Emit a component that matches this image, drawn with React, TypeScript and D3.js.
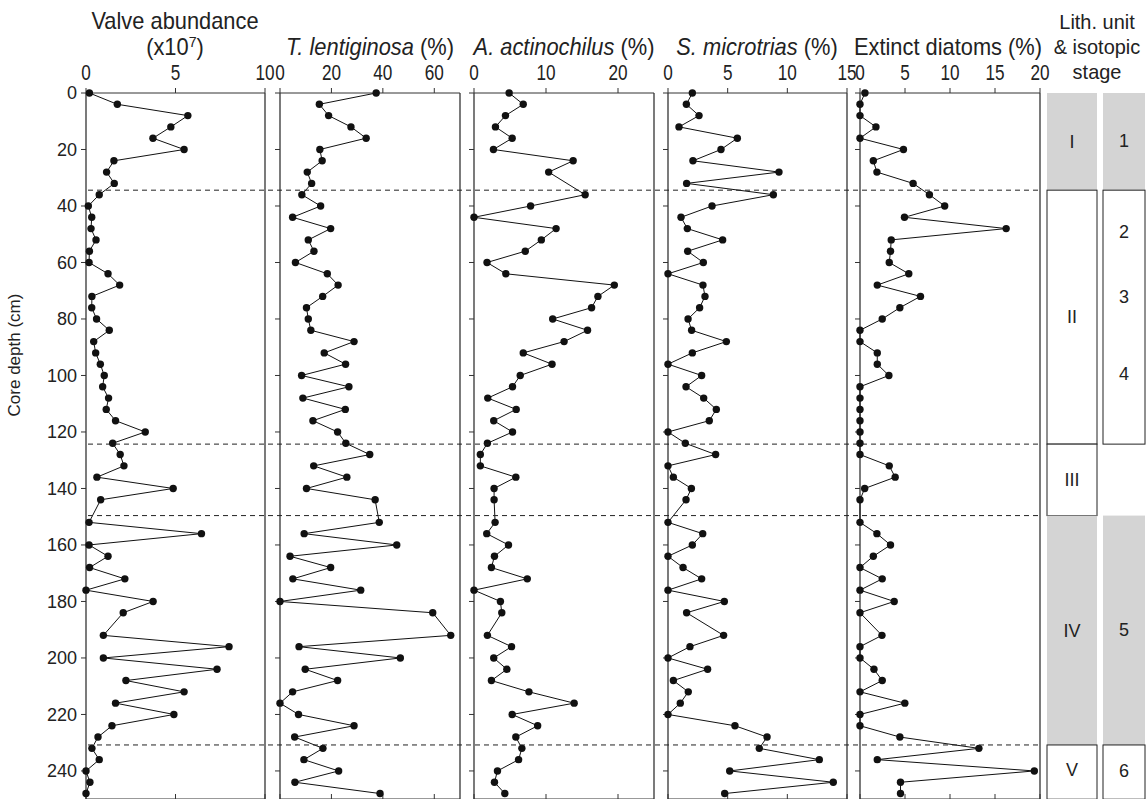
import React, { useRef, useEffect } from "react";
import * as d3 from "d3";

// sample depths (cm); 148 and 188 were not sampled
const depths = [0, 4, 8, 12, 16, 20, 24, 28, 32, 36, 40, 44, 48, 52, 56, 60, 64, 68, 72, 76, 80, 84, 88, 92, 96, 100, 104, 108, 112, 116,
  120, 124, 128, 132, 136, 140, 144, 152, 156, 160, 164, 168, 172, 176, 180, 184, 192, 196, 200, 204, 208, 212, 216, 220, 224, 228, 232, 236, 240, 244, 248];

const valveAbundance = [0.19, 1.75, 5.69, 4.74, 3.74, 5.48, 1.56, 1.15, 1.58, 0.74, 0.13, 0.32, 0.28, 0.56, 0.19, 0.17, 1.23, 1.88, 0.33, 0.32, 0.59, 1.3, 0.43, 0.54, 0.8, 1.02, 0.93, 1.26, 1.13, 1.65,
  3.31, 1.49, 1.91, 2.12, 0.61, 4.87, 0.82, 0.17, 6.45, 0.17, 1.23, 0.2, 2.17, 0, 3.75, 2.08, 0.97, 7.99, 0.97, 7.32, 2.23, 5.48, 1.65, 4.91, 1.45, 0.67, 0.33, 0.74, 0, 0.22, 0];

const tLentiginosa = [37.4, 15.3, 18.9, 27.6, 33.5, 15.5, 16.4, 10.6, 12.3, 8.5, 15.8, 4.9, 19.7, 11.0, 13.2, 6.0, 18.4, 22.6, 16.6, 10.3, 11.0, 12.0, 28.8, 17.2, 25.5, 8.4, 26.8, 8.9, 25.4, 12.8,
  22.4, 25.6, 34.9, 13.1, 26.0, 10.3, 37.0, 38.6, 9.4, 45.4, 3.9, 19.7, 5.0, 31.4, 0, 59.4, 66.4, 7.4, 46.8, 9.8, 22.4, 4.9, 0, 7.2, 28.8, 5.7, 16.7, 9.3, 22.8, 5.8, 38.9];

const aActinochilus = [4.88, 6.84, 4.37, 2.98, 5.3, 2.7, 13.77, 10.37, null, 15.44, 7.86, 0, 11.4, 9.35, 7.12, 1.81, 4.42, 19.49, 17.21, 16.33, 10.93, 15.77, 12.51, 6.84, 10.84, 6.42, 5.35, 1.91, 5.86, 2.74,
  5.35, 1.86, 0.88, 0.88, 5.81, 2.79, 2.79, 2.93, 1.77, 4.79, 2.84, 2.42, 7.4, 0, 3.67, 3.86, 1.86, 5.21, 2.74, 4.56, 2.42, 7.63, 13.91, 5.3, 8.84, 5.81, 6.65, 6.19, 3.26, 2.84, 4.28];

const sMicrotrias = [2.04, 1.54, 2.6, 0.92, 5.81, 4.44, 2.09, 9.3, 1.56, 8.83, 3.69, 1.09, 1.62, 4.58, 1.65, 2.96, 0, 2.93, 3.1, 2.65, 1.68, 1.98, 4.89, 2.04, 0, 2.82, 1.51, 2.99, 4.05, 3.46,
  0, 1.45, 3.99, 0, 0.45, 1.96, 1.51, 0, 2.91, 2.04, 0, 1.26, 2.82, 0, 4.72, 1.56, 4.66, 1.84, 0, 3.32, 0.45, 1.7, 1.03, 0, 5.61, 8.3, 7.65, 12.68, 5.17, 13.85, 4.75];

const extinctDiatoms = [0.55, 0, 0, 1.77, 0, 4.83, 1.48, 1.88, 5.9, 7.71, 9.41, 4.94, 16.24, 3.47, 3.39, 3.25, 5.42, 1.92, 6.72, 4.43, 2.47, 0, 0, 1.92, 1.92, 3.21, 0, 0, 0, 0,
  0, 0, 0, 3.25, 3.91, 0.52, 0, 0, 1.88, 3.39, 1.48, 0, 2.47, 0, 3.8, 0, 2.44, 0, 0, 1.55, 2.47, 0, 4.98, 0, 0, 4.43, 13.21, 1.92, 19.37, 4.5, 4.5];

const depthTicks = [0, 20, 40, 60, 80, 100, 120, 140, 160, 180, 200, 220, 240];

// unit boundaries (cm)
const boundaries = [34.4, 124.3, 149.6, 230.8];
const lithUnits = [
  { label: "I", top: 0, bottom: 34.4, shaded: true },
  { label: "II", top: 34.4, bottom: 124.3, shaded: false },
  { label: "III", top: 124.3, bottom: 149.6, shaded: false },
  { label: "IV", top: 149.6, bottom: 230.8, shaded: true },
  { label: "V", top: 230.8, bottom: 250, shaded: false },
];
const stageBoxes = [
  { top: 0, bottom: 34.4, shaded: true, boxed: false },
  { top: 34.4, bottom: 124.3, shaded: false, boxed: true },
  { top: 149.6, bottom: 230.8, shaded: true, boxed: false },
  { top: 230.8, bottom: 250, shaded: false, boxed: true },
];
const stageLabels = [
  { label: "1", depth: 17 },
  { label: "2", depth: 49 },
  { label: "3", depth: 72 },
  { label: "4", depth: 99.5 },
  { label: "5", depth: 190 },
  { label: "6", depth: 240 },
];

const panels = [
  { values: valveAbundance, left: 86, right: 265, domain: [0, 10], ticks: [0, 5, 10] },
  { values: tLentiginosa, left: 280, right: 460, domain: [0, 70], ticks: [0, 20, 40, 60] },
  { values: aActinochilus, left: 474, right: 654, domain: [0, 25], ticks: [0, 10, 20] },
  { values: sMicrotrias, left: 668, right: 847, domain: [0, 15], ticks: [0, 5, 10, 15] },
  { values: extinctDiatoms, left: 860, right: 1040, domain: [0, 20], ticks: [0, 5, 10, 15, 20] },
];

const FONT = "'Liberation Sans', Arial, Helvetica, sans-serif";
const AXIS = "#333";

const App = () => {
  const svgRef = useRef(null);

  useEffect(() => {
    const svg = d3.select(svgRef.current);
    svg.selectAll("*").remove();

    const y = d3.scaleLinear().domain([0, 250]).range([93, 799.2]);
    const top = y(0), bottom = 799;

    // horizontally condensed text, like the narrow face of the original
    const narrow = (parent, cx, ty, size, sx) => parent.append("text")
      .attr("transform", `translate(${cx},${ty}) scale(${sx},1)`)
      .attr("text-anchor", "middle").attr("font-family", FONT).attr("font-size", size).attr("fill", "#222");

    panels.forEach((p, pi) => {
      const x = d3.scaleLinear().domain(p.domain).range([p.left, p.right]);
      const g = svg.append("g");

      // frame
      g.append("line").attr("x1", p.left).attr("x2", p.right).attr("y1", top).attr("y2", top).attr("stroke", AXIS);
      g.append("line").attr("x1", p.left).attr("x2", p.left).attr("y1", top).attr("y2", bottom).attr("stroke", AXIS).attr("stroke-width", 1.3);
      g.append("line").attr("x1", p.right).attr("x2", p.right).attr("y1", top).attr("y2", bottom).attr("stroke", AXIS).attr("stroke-width", 1.3);
      g.append("line").attr("x1", p.left).attr("x2", p.right).attr("y1", bottom).attr("y2", bottom).attr("stroke", AXIS);

      // top ticks + labels
      p.ticks.forEach(t => {
        g.append("line").attr("x1", x(t)).attr("x2", x(t)).attr("y1", top).attr("y2", top - 5).attr("stroke", AXIS);
        g.append("line").attr("x1", x(t)).attr("x2", x(t)).attr("y1", bottom).attr("y2", bottom - 5).attr("stroke", AXIS);
        narrow(g, x(t), 80, 22, 0.78).text(t);
      });

      // depth ticks
      depthTicks.forEach(d => {
        g.append("line").attr("x1", p.left).attr("x2", p.left - 5).attr("y1", y(d)).attr("y2", y(d)).attr("stroke", AXIS);
        if (pi === 0) {
          g.append("text").attr("x", p.left - 9).attr("y", y(d)).attr("dy", "0.35em").attr("text-anchor", "end")
            .attr("font-family", FONT).attr("font-size", 18).attr("fill", "#222").text(d);
        }
      });

      const pts = depths.map((d, i) => ({ d, v: p.values[i] })).filter(o => o.v !== null);
      const line = d3.line().x(o => x(o.v)).y(o => y(o.d));
      g.append("path").attr("d", line(pts)).attr("fill", "none").attr("stroke", "#111").attr("stroke-width", 1);
      g.selectAll("circle").data(pts).enter().append("circle")
        .attr("cx", o => x(o.v)).attr("cy", o => y(o.d)).attr("r", 3.7).attr("fill", "#111");
    });

    // dashed unit boundaries
    boundaries.forEach(b => {
      svg.append("line").attr("x1", 88).attr("x2", 1040).attr("y1", y(b)).attr("y2", y(b))
        .attr("stroke", "#222").attr("stroke-dasharray", "5,4").attr("stroke-width", 1);
    });

    // titles
    narrow(svg, 175, 29, 23, 0.95).text("Valve abundance");
    const t2 = narrow(svg, 175, 55, 23, 0.95);
    t2.append("tspan").text("(x10");
    t2.append("tspan").attr("font-size", 15).attr("dy", -8).text("7");
    t2.append("tspan").attr("dy", 8).text(")");
    [["T. lentiginosa", 370], ["A. actinochilus", 564], ["S. microtrias", 757]].forEach(([s, cx]) => {
      const t = narrow(svg, cx, 55, 23, 0.95);
      t.append("tspan").attr("font-style", "italic").text(s);
      t.append("tspan").text(" (%)");
    });
    narrow(svg, 948, 55, 23, 0.95).text("Extinct diatoms (%)");
    ["Lith. unit", "& isotopic", "stage"].forEach((s, i) => {
      narrow(svg, 1097, 29 + i * 25, 21, 0.95).text(s);
    });

    svg.append("text").attr("transform", `translate(20, 355) rotate(-90)`).attr("text-anchor", "middle")
      .attr("font-family", FONT).attr("font-size", 17).attr("fill", "#222").text("Core depth (cm)");

    // lithology columns
    const c1 = { x0: 1047, x1: 1097 }, c2 = { x0: 1103, x1: 1145 };
    lithUnits.forEach(u => {
      svg.append("rect").attr("x", c1.x0).attr("y", y(u.top)).attr("width", c1.x1 - c1.x0)
        .attr("height", Math.min(y(u.bottom), 805) - y(u.top))
        .attr("fill", u.shaded ? "#d4d4d4" : "#fff").attr("stroke", u.shaded ? "none" : "#222").attr("stroke-width", 1);
      svg.append("text").attr("x", (c1.x0 + c1.x1) / 2).attr("y", y((u.top + Math.min(u.bottom, 248)) / 2)).attr("dy", "0.35em")
        .attr("text-anchor", "middle").attr("font-family", FONT).attr("font-size", 18).attr("fill", "#222").text(u.label);
    });
    stageBoxes.forEach(s => {
      svg.append("rect").attr("x", c2.x0).attr("y", y(s.top)).attr("width", c2.x1 - c2.x0)
        .attr("height", Math.min(y(s.bottom), 805) - y(s.top))
        .attr("fill", s.shaded ? "#d4d4d4" : "#fff").attr("stroke", s.boxed ? "#222" : "none").attr("stroke-width", 1);
    });
    stageLabels.forEach(s => {
      svg.append("text").attr("x", (c2.x0 + c2.x1) / 2).attr("y", y(s.depth)).attr("dy", "0.35em")
        .attr("text-anchor", "middle").attr("font-family", FONT).attr("font-size", 18).attr("fill", "#222").text(s.label);
    });
  }, []);

  return (
    <svg ref={svgRef} width={1147} height={799} style={{ position: "absolute", left: 0, top: 0, background: "#fff" }}></svg>
  );
};

export default App;
